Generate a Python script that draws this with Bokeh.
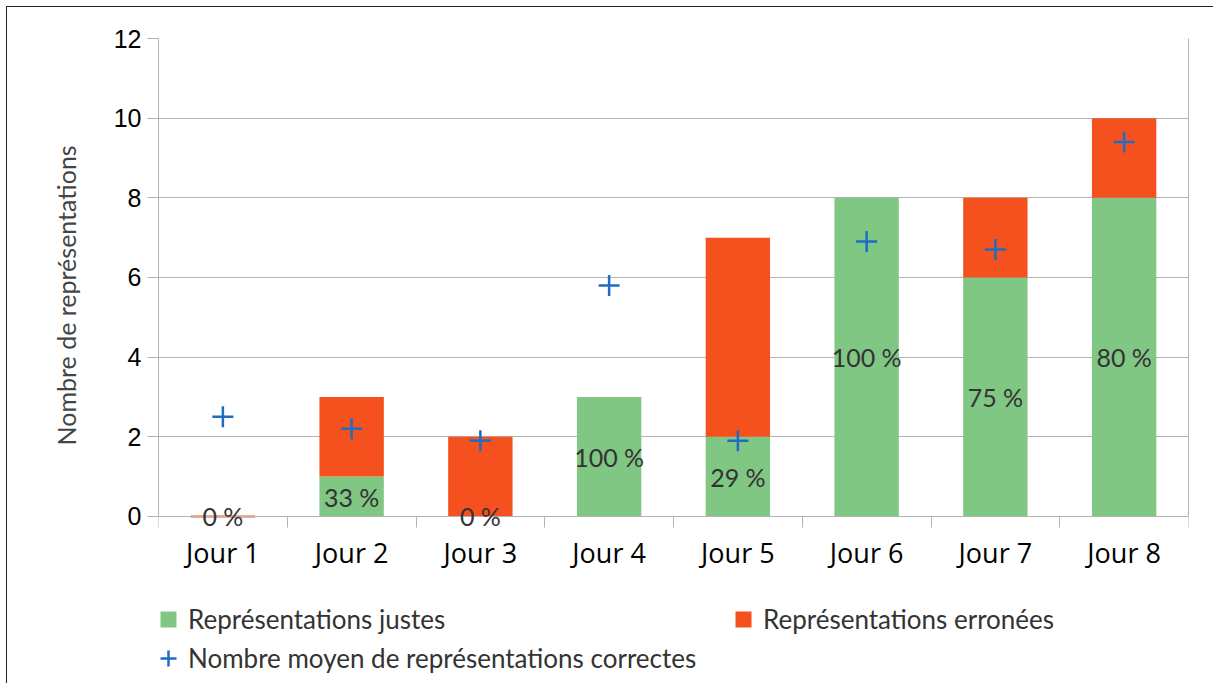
from bokeh.plotting import figure
from bokeh.models import (ColumnDataSource, FixedTicker, Legend, LegendItem,
                          LabelSet, Range1d, LinearAxis, Title)
from bokeh.core.properties import value
from bokeh.embed import file_html
from bokeh.resources import INLINE

# ---- data ----
jours = ["Jour 1", "Jour 2", "Jour 3", "Jour 4", "Jour 5", "Jour 6", "Jour 7", "Jour 8"]
justes = [0, 1, 0, 3, 2, 8, 6, 8]
erronees = [0, 2, 2, 0, 5, 0, 2, 2]
moyenne = [2.5, 2.2, 1.9, 5.8, 1.9, 6.9, 6.7, 9.4]
pourcentages = ["0 %", "33 %", "0 %", "100 %", "29 %", "100 %", "75 %", "80 %"]
y_ticks = [0, 2, 4, 6, 8, 10, 12]

GREEN = "#81c784"
ORANGE = "#f4511e"
BLUE = "#1f6cc4"
GRID = "#b3b3b3"

centres = [i + 0.5 for i in range(len(jours))]
bornes = list(range(len(jours) + 1))
total = [a + b for a, b in zip(justes, erronees)]

src = ColumnDataSource(dict(
    x=centres, justes=justes, erronees=erronees, total=total,
    moyenne=moyenne, label=pourcentages,
    label_y=[j / 2 for j in justes],
    zero=[0] * len(jours), jour=jours,
    trait=[ORANGE if t == 0 else None for t in total],
))

# the frame reaches the bottom of the page so that the category labels and
# the legend (drawn inside it, below y = 0) are not clipped
p = figure(width=1207, height=677, output_backend="svg", toolbar_location=None,
           x_range=Range1d(0, len(jours)), y_range=Range1d(-4.22, 12),
           x_axis_location="above",
           min_border_left=151, min_border_right=26, min_border_top=31,
           min_border_bottom=0)
p.styles = {"margin-left": "6px", "margin-top": "6px",
            "border-left": "1px solid #222222", "border-top": "1px solid #222222"}
p.outline_line_color = None

r_j = p.vbar(x="x", width=0.5, bottom=0, top="justes", source=src,
             fill_color=GREEN, line_color=None)
r_e = p.vbar(x="x", width=0.5, bottom="justes", top="total", source=src,
             fill_color=ORANGE, line_color="trait", line_width=2)
r_m = p.scatter(x="x", y="moyenne", source=src, marker="cross", size=21,
                line_color=BLUE, line_width=2.5)

labels = LabelSet(x="x", y="label_y", text="label", source=src,
                  text_align="center", text_baseline="middle",
                  text_font=value("Lato"), text_font_size="25px",
                  text_color="#333333")
p.add_layout(labels)

# category labels under the y = 0 line
cat_labels = LabelSet(x="x", y="zero", text="jour", source=src, y_offset=-47,
                      text_align="center", text_baseline="alphabetic",
                      text_font=value("Open Sans"), text_font_size="27px",
                      text_color="#000000")
p.add_layout(cat_labels)

# grid
p.xgrid.grid_line_color = None
p.ygrid.grid_line_color = GRID
p.ygrid.ticker = FixedTicker(ticks=y_ticks)

# y axis (left)
p.yaxis.ticker = FixedTicker(ticks=y_ticks)
p.yaxis.bounds = (0, 12)
p.yaxis.axis_line_color = GRID
p.yaxis.major_tick_line_color = GRID
p.yaxis.major_tick_in = 0
p.yaxis.major_tick_out = 11
p.yaxis.minor_tick_line_color = None
p.yaxis.major_label_text_font = "Liberation Sans"
p.yaxis.major_label_text_font_size = "25px"
p.yaxis.major_label_text_color = "#000000"
p.yaxis.major_label_standoff = 6

# y axis title
titre_y = Title(text="Nombre de représentations", align="left", offset=239,
                text_font="Lato", text_font_style="normal",
                text_font_size="25px", text_color="#444444", standoff=60)
p.add_layout(titre_y, "left")

# right border line of the plot area
droite = LinearAxis(bounds=(0, 12), ticker=FixedTicker(ticks=[]),
                    axis_line_color=GRID, major_tick_line_color=None,
                    minor_tick_line_color=None)
p.add_layout(droite, "right")

# x axis line at y = 0, with ticks between the days
p.xaxis.fixed_location = 0
p.xaxis.ticker = FixedTicker(ticks=[], minor_ticks=bornes)
p.xaxis.axis_line_color = GRID
p.xaxis.major_tick_line_color = None
p.xaxis.minor_tick_line_color = GRID
p.xaxis.minor_tick_in = 11
p.xaxis.minor_tick_out = 0

# legend glyphs (squares) that draw nothing in the plot area
nan = float("nan")
vide = ColumnDataSource(dict(x=[nan], y=[nan]))
leg_j = p.scatter(x="x", y="y", source=vide, marker="square",
                  fill_color=GREEN, line_color=None)
leg_e = p.scatter(x="x", y="y", source=vide, marker="square",
                  fill_color=ORANGE, line_color=None)

common = dict(padding=0, margin=0, spacing=0,
              glyph_width=40, glyph_height=40, label_standoff=-10,
              label_height=40, border_line_alpha=0, background_fill_alpha=0,
              label_text_font="Lato", label_text_font_size="26px",
              label_text_color="#333333")

legend_a = Legend(items=[LegendItem(label="Représentations justes", renderers=[leg_j]),
                         LegendItem(label="Représentations erronées", renderers=[leg_e])],
                  orientation="horizontal", location=(-10, 45), label_width=535,
                  **common)
legend_b = Legend(items=[LegendItem(label="Nombre moyen de représentations correctes",
                                    renderers=[r_m])],
                  location=(-10, 6), **common)
p.add_layout(legend_a)
p.add_layout(legend_b)

open("out.html", "w").write(file_html(p, INLINE))
